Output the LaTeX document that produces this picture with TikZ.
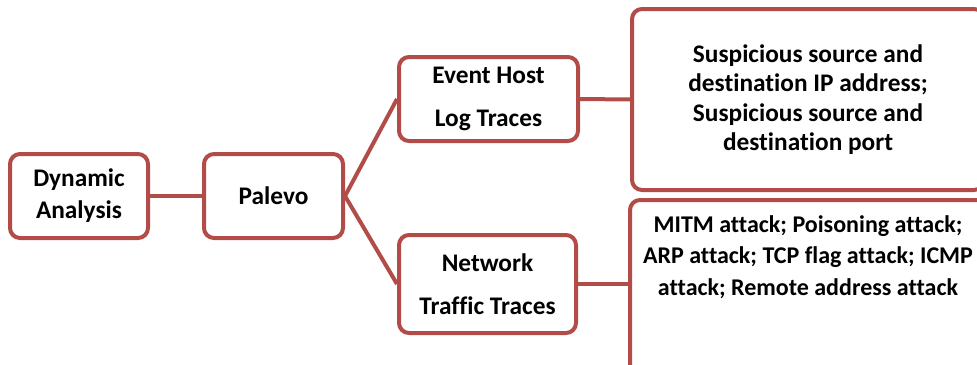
\documentclass[tikz,border=0pt]{standalone}
\usepackage{fontspec}
\setmainfont[RawFeature=-liga]{Carlito}
\definecolor{boxred}{RGB}{178,76,72}
\begin{document}
\begin{tikzpicture}[x=0.75pt,y=-0.75pt,
  box/.style={draw=boxred,line width=3pt,rounded corners=7.5pt,fill=white,
    align=center,font=\bfseries\fontsize{19}{24}\selectfont,inner sep=0pt},
  conn/.style={draw=boxred,line width=3pt}]
\useasboundingbox (0,0) rectangle (977,364);
\node[box,minimum width=103.5pt,minimum height=63pt] (b1) at (79,196) {Dynamic\\Analysis};
\node[box,minimum width=104.25pt,minimum height=63pt] (b2) at (273.5,196) {Palevo};
\node[box,minimum width=134.25pt,minimum height=63pt,font=\bfseries\fontsize{19}{32}\selectfont] (b3) at (488.5,99) {Event Host\\Log Traces};
\node[box,minimum width=132.75pt,minimum height=73.5pt,font=\bfseries\fontsize{19}{32}\selectfont] (b4) at (487.5,284) {Network\\Traffic Traces};
\node[box,minimum width=264pt,minimum height=135.75pt,font=\bfseries\fontsize{19}{22}\selectfont] (b5) at (808,99.5) {Suspicious source and\\destination IP address;\\Suspicious source and\\destination port};
\node[box,minimum width=267pt,minimum height=150pt] (b6) at (808,300) {};
\node[align=center,font=\bfseries\fontsize{18}{23.5}\selectfont,inner sep=0pt] (t6) at (808,257) {MITM attack; Poisoning attack;\\ARP attack; TCP flag attack; ICMP\\attack; Remote address attack};
\draw[conn] (b1) -- (b2);
\draw[conn] (b2.east) -- (b3.west);
\draw[conn] (b2.east) -- (b4.west);
\draw[conn] (b3.east) -- (b5.west);
\draw[conn] (b4.east) -- (b4.east -| b6.west);
\end{tikzpicture}
\end{document}
